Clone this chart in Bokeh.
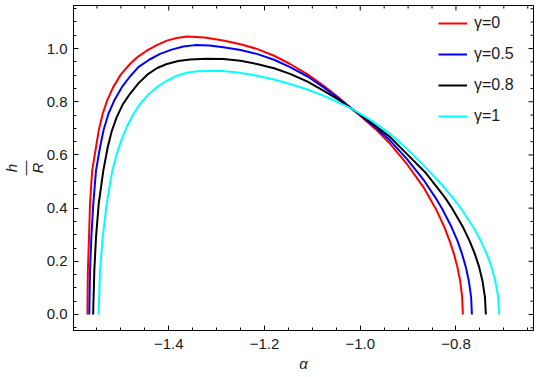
from bokeh.plotting import figure
from bokeh.models import Range1d, FixedTicker, CustomJSTickFormatter
from bokeh.embed import file_html
from bokeh.resources import INLINE

# ---- data ----
labels = ["γ=0", "γ=0.5", "γ=0.8", "γ=1"]
colors = ["#ff0000", "#0000ff", "#000000", "#00ffff"]

x_g0 = [-1.570, -1.569, -1.5666, -1.5645, -1.560, -1.552, -1.546, -1.538, -1.528, -1.516,
        -1.500, -1.481, -1.464, -1.446, -1.425, -1.404, -1.383, -1.362, -1.325, -1.286,
        -1.25, -1.216, -1.18, -1.1465, -1.11, -1.077, -1.047, -1.017, -1.000, -0.968,
        -0.9375, -0.9026, -0.868, -0.852, -0.842, -0.824, -0.8134, -0.8042, -0.797, -0.7914,
        -0.787, -0.7856]
y_g0 = [0.0, 0.165, 0.29, 0.417, 0.541, 0.629, 0.695, 0.755, 0.808, 0.855,
        0.903, 0.942, 0.970, 0.992, 1.013, 1.030, 1.040, 1.045, 1.042, 1.030,
        1.016, 0.999, 0.973, 0.942, 0.903, 0.861, 0.819, 0.773, 0.747, 0.697,
        0.642, 0.566, 0.479, 0.429, 0.397, 0.328, 0.278, 0.228, 0.178, 0.128,
        0.065, 0.0]

x_g05 = [-1.566, -1.5645, -1.5617, -1.5576, -1.552, -1.5436, -1.536, -1.526, -1.513, -1.498,
         -1.481, -1.4635, -1.441, -1.418, -1.394, -1.3695, -1.345, -1.315, -1.286, -1.25,
         -1.216, -1.18, -1.1465, -1.11, -1.077, -1.047, -1.017, -1.000, -0.968, -0.9375,
         -0.9026, -0.8667, -0.8391, -0.8286, -0.809, -0.797, -0.7873, -0.7793, -0.7733, -0.7683,
         -0.7667]
y_g05 = [0.0, 0.165, 0.29, 0.417, 0.541, 0.629, 0.695, 0.755, 0.808, 0.855,
         0.895, 0.930, 0.958, 0.980, 0.996, 1.0075, 1.013, 1.012, 1.005, 0.995,
         0.980, 0.958, 0.930, 0.895, 0.855, 0.815, 0.773, 0.750, 0.703, 0.654,
         0.585, 0.504, 0.429, 0.397, 0.328, 0.278, 0.228, 0.178, 0.128, 0.065,
         0.0]

x_g08 = [-1.558, -1.5555, -1.552, -1.5463, -1.5367, -1.5275, -1.519, -1.5087, -1.496, -1.481,
         -1.463, -1.4426, -1.424, -1.404, -1.38, -1.3555, -1.321, -1.286, -1.25, -1.216,
         -1.18, -1.1465, -1.11, -1.077, -1.047, -1.017, -0.977, -0.9375, -0.9026, -0.8644,
         -0.8289, -0.819, -0.8073, -0.7852, -0.7718, -0.7605, -0.7515, -0.7448, -0.7394, -0.7375]
y_g08 = [0.0, 0.165, 0.29, 0.417, 0.541, 0.629, 0.690, 0.742, 0.790, 0.830,
         0.870, 0.905, 0.927, 0.942, 0.953, 0.959, 0.962, 0.961, 0.954, 0.942,
         0.926, 0.905, 0.876, 0.842, 0.810, 0.773, 0.722, 0.667, 0.604, 0.535,
         0.454, 0.429, 0.397, 0.328, 0.278, 0.228, 0.178, 0.128, 0.065, 0.0]

x_g1 = [-1.5465, -1.5436, -1.538, -1.5296, -1.518, -1.5087, -1.499, -1.488, -1.475, -1.460,
        -1.443, -1.425, -1.404, -1.383, -1.362, -1.3415, -1.293, -1.255, -1.216, -1.18,
        -1.1465, -1.11, -1.077, -1.047, -1.017, -0.977, -0.9375, -0.9026, -0.8671, -0.8278,
        -0.8021, -0.7887, -0.7636, -0.7484, -0.7358, -0.7256, -0.7179, -0.7118, -0.7097]
y_g1 = [0.0, 0.165, 0.29, 0.417, 0.541, 0.604, 0.656, 0.704, 0.750, 0.792,
        0.826, 0.855, 0.879, 0.898, 0.909, 0.915, 0.917, 0.910, 0.898, 0.884,
        0.867, 0.846, 0.823, 0.799, 0.773, 0.730, 0.679, 0.623, 0.560, 0.485,
        0.429, 0.397, 0.328, 0.278, 0.228, 0.178, 0.128, 0.065, 0.0]

x_ticks = [-1.4, -1.2, -1.0, -0.8]
x_tick_labels = ["\u22121.4", "\u22121.2", "\u22121.0", "\u22120.8"]
y_ticks = [0.0, 0.2, 0.4, 0.6, 0.8, 1.0]
y_tick_labels = ["0.0", "0.2", "0.4", "0.6", "0.8", "1.0"]
x_minor = [-1.55, -1.5, -1.45, -1.35, -1.3, -1.25, -1.15, -1.1, -1.05,
           -0.95, -0.9, -0.85, -0.75, -0.7, -0.65]
y_minor = [-0.05, 0.05, 0.1, 0.15, 0.25, 0.3, 0.35, 0.45, 0.5, 0.55, 0.65, 0.7, 0.75,
           0.85, 0.9, 0.95, 1.05, 1.1, 1.15]

series = [(x_g0, y_g0), (x_g05, y_g05), (x_g08, y_g08), (x_g1, y_g1)]

FONT = "Liberation Sans"
X0, X1 = -1.599, -0.638
Y0, Y1 = -0.0602, 1.162
FRAME_W, FRAME_H = 460, 325

p = figure(width=535, height=376,
           x_range=Range1d(X0, X1), y_range=Range1d(Y0, Y1),
           output_backend="svg", toolbar_location=None,
           min_border_left=73, min_border_right=2, min_border_top=5, min_border_bottom=46)
p.xgrid.visible = False
p.ygrid.visible = False
p.outline_line_color = "black"
p.background_fill_color = "white"
p.border_fill_color = "white"

for (xs, ys), c, lab in zip(series, colors, labels):
    p.line(xs, ys, line_color=c, line_width=2, legend_label=lab, line_join="round")

# tick marks on the top and right frame edges (pointing inwards)
dx = (X1 - X0) / FRAME_W
dy = (Y1 - Y0) / FRAME_H
p.segment(x0=x_ticks, y0=[Y1] * len(x_ticks), x1=x_ticks, y1=[Y1 - 5 * dy] * len(x_ticks),
          line_color="black", line_width=1)
p.segment(x0=x_minor, y0=[Y1] * len(x_minor), x1=x_minor, y1=[Y1 - 3 * dy] * len(x_minor),
          line_color="black", line_width=1)
p.segment(x0=[X1] * len(y_ticks), y0=y_ticks, x1=[X1 - 5 * dx] * len(y_ticks), y1=y_ticks,
          line_color="black", line_width=1)
p.segment(x0=[X1] * len(y_minor), y0=y_minor, x1=[X1 - 3 * dx] * len(y_minor), y1=y_minor,
          line_color="black", line_width=1)

def fmt(tv, tl):
    return CustomJSTickFormatter(args=dict(tv=tv, tl=tl), code="""
        for (let i = 0; i < tv.length; i++) {
            if (Math.abs(tv[i] - tick) < 1e-9) return tl[i];
        }
        return '';
    """)

def style_axis(ax):
    ax.axis_line_color = "black"
    ax.major_tick_line_color = "black"
    ax.minor_tick_line_color = "black"
    ax.major_tick_in = 5
    ax.major_tick_out = 0
    ax.minor_tick_in = 3
    ax.minor_tick_out = 0
    ax.major_label_text_font = FONT
    ax.major_label_text_color = "#1a1a1a"
    ax.major_label_text_font_size = "15px"

xa = p.xaxis[0]
xa.ticker = FixedTicker(ticks=x_ticks, minor_ticks=x_minor)
xa.formatter = fmt(x_ticks, x_tick_labels)
style_axis(xa)
xa.major_label_standoff = 8
xa.axis_label = "α"
xa.axis_label_text_font = FONT
xa.axis_label_text_font_style = "italic"
xa.axis_label_text_font_size = "15px"
xa.axis_label_text_color = "#1a1a1a"
xa.axis_label_standoff = 3

ya = p.yaxis[0]
ya.ticker = FixedTicker(ticks=y_ticks, minor_ticks=y_minor)
ya.formatter = fmt(y_ticks, y_tick_labels)
style_axis(ya)
ya.major_label_standoff = 6
ya.axis_label = "h\n\u2014\nR"
ya.axis_label_text_font = FONT
ya.axis_label_text_font_style = "italic"
ya.axis_label_text_font_size = "15px"
ya.axis_label_text_line_height = 0.75
ya.axis_label_text_color = "#1a1a1a"
ya.axis_label_standoff = -2

lg = p.legend[0]
lg.location = (365, 204)
lg.border_line_color = None
lg.background_fill_alpha = 0
lg.padding = 0
lg.margin = 0
lg.spacing = 11
lg.glyph_width = 29
lg.glyph_height = 20
lg.label_height = 20
lg.label_standoff = 7
lg.label_text_font = FONT
lg.label_text_font_size = "16px"
lg.label_text_color = "#1a1a1a"

open("out.html", "w").write(file_html(p, INLINE))
